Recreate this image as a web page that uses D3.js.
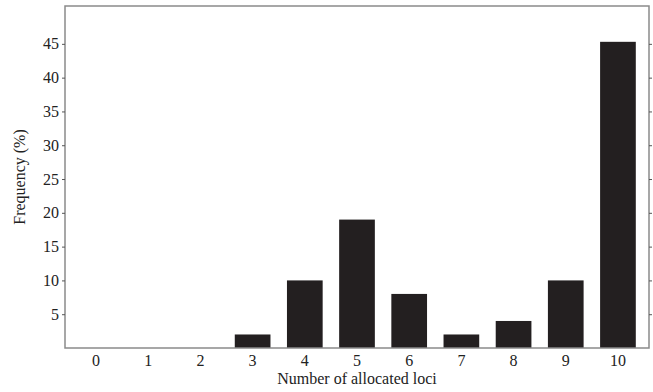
<!DOCTYPE html>
<html>
<head>
<meta charset="utf-8">
<script src="https://cdn.jsdelivr.net/npm/d3@7"></script>
<style>
  body { margin: 0; background: #fff; }
  text { font-family: "Liberation Serif", "Times New Roman", serif; fill: #222; }
</style>
</head>
<body>
<svg id="chart" width="653" height="392"></svg>
<script>
// number of allocated loci vs frequency
var loci = ["0", "1", "2", "3", "4", "5", "6", "7", "8", "9", "10"];
var freq = [0, 0, 0, 2, 10, 19, 8, 2, 4, 10, 45.3];
var yTicks = [5, 10, 15, 20, 25, 30, 35, 40, 45];

var serif = "Liberation Serif, Times New Roman, serif";

var margin = {top: 6, right: 4, bottom: 44, left: 65},
    width = 653 - margin.left - margin.right,
    height = 392 - margin.top - margin.bottom;

var svg = d3.select("#chart")
  .append("g")
  .attr("transform", `translate(${margin.left},${margin.top})`);

var x = d3.scaleBand()
  .domain(loci)
  .range([0, width])
  .paddingInner(0.316)
  .paddingOuter(0.253);

var y = d3.scaleLinear()
  .domain([0, 50.6])
  .range([height, 0]);

// bars
svg.selectAll("rect.bar")
  .data(freq)
  .enter().append("rect")
  .attr("class", "bar")
  .attr("x", (d, i) => x(loci[i]))
  .attr("y", d => y(d))
  .attr("width", x.bandwidth())
  .attr("height", d => height - y(d))
  .attr("fill", "#231f20");

// frame
svg.append("rect")
  .attr("width", width)
  .attr("height", height)
  .attr("fill", "none")
  .attr("stroke", "#8a8a8a")
  .attr("stroke-width", 1.5);

// left axis
var yAxis = svg.append("g")
  .call(d3.axisLeft(y).tickValues(yTicks).tickSize(3).tickPadding(3))
  .attr("font-family", serif)
  .attr("font-size", 16);
yAxis.select(".domain").remove();
yAxis.selectAll("line").attr("stroke", "#555");

// right axis, ticks only
var yAxisR = svg.append("g")
  .attr("transform", `translate(${width},0)`)
  .call(d3.axisRight(y).tickValues(yTicks).tickSize(3).tickFormat(""));
yAxisR.select(".domain").remove();
yAxisR.selectAll("line").attr("stroke", "#555");

// bottom axis
var xAxis = svg.append("g")
  .attr("transform", `translate(0,${height})`)
  .call(d3.axisBottom(x).tickSize(0).tickPadding(7))
  .attr("font-family", serif)
  .attr("font-size", 16);
xAxis.select(".domain").remove();

svg.append("text")
  .attr("x", width / 2)
  .attr("y", height + 36)
  .attr("text-anchor", "middle")
  .style("font-size", "16px")
  .text("Number of allocated loci");

svg.append("text")
  .attr("transform", "rotate(-90)")
  .attr("x", -height / 2)
  .attr("y", -40)
  .attr("text-anchor", "middle")
  .style("font-size", "16px")
  .text("Frequency (%)");
</script>
</body>
</html>
